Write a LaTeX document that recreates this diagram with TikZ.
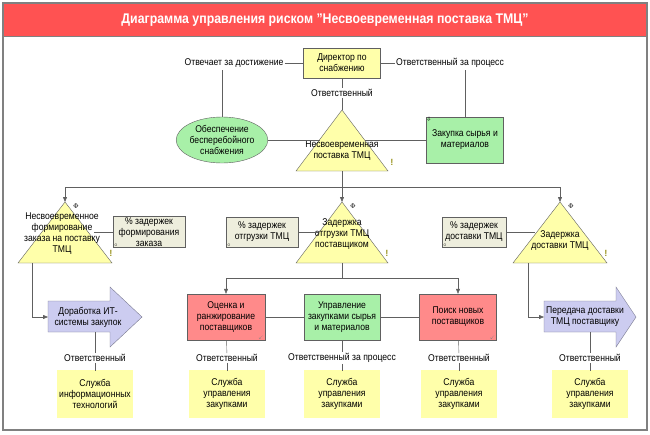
\documentclass[tikz,border=0pt]{standalone}
\usepackage{amssymb}
\usepackage{fontspec}
\setmainfont{Liberation Sans}[FakeStretch=0.88]
\usetikzlibrary{positioning,arrows.meta,shapes.geometric}
\definecolor{titlered}{HTML}{FF5252}
\definecolor{boxyellow}{HTML}{FFFFAA}
\definecolor{boxgreen}{HTML}{A8F0A8}
\definecolor{boxred}{HTML}{FF8A8A}
\definecolor{boxblue}{HTML}{CCCCF0}
\definecolor{boxgray}{HTML}{EEEEDD}
\definecolor{linegray}{HTML}{606060}
\tikzset{
  txt/.style={font=\fontsize{9.8}{11}\selectfont, align=center, inner sep=1pt},
  box/.style={txt, draw=linegray, minimum width=#1, minimum height=31pt, inner sep=1pt},
  org/.style={box=74pt, fill=boxyellow, double=boxyellow, double distance=1.4pt, draw=olive!80!black, minimum height=46pt, text width=72pt},
  kpi/.style={box=72pt, fill=boxgray, minimum height=30pt},
  risk/.style={draw=linegray, fill=boxyellow},
  arr/.style={draw=boxblue!60!black, fill=boxblue},
  ln/.style={draw=linegray},
  ar/.style={ln, -{Triangle[width=4pt,length=5pt]}}
}
\begin{document}
\begin{tikzpicture}[x=1pt, y=-1pt]
    \useasboundingbox (0,0) rectangle (650,434);
    \fill[white] (0,0) rectangle (650,434);
    \draw[gray, line width=1.2pt] (3,3) rectangle (647,430);
    \fill[titlered] (4,4) rectangle (646,36);
    \draw[gray] (4,36) -- (646,36);
    \node[font=\bfseries\fontsize{14}{16}\selectfont, text=white] (title) at (325,20)
      {Диаграмма управления риском "Несвоевременная поставка ТМЦ"};

    % top level
    \node[box=77pt, fill=boxyellow, minimum height=30pt] (dir) at (342,63) {Директор по\\снабжению};
    \node[txt] (lach) at (234,63) {Отвечает за достижение};
    \node[txt] (lproc) at (450,63) {Ответственный за процесс};
    \node[txt] (lresp) at (342,93) {Ответственный};
    \node[txt, draw=linegray, fill=boxgreen, ellipse, minimum width=86pt, minimum height=46pt, inner sep=0pt] (goal) at (222,140)
      {Обеспечение\\бесперебойного\\снабжения};
    \node[box=77pt, fill=boxgreen, minimum height=46pt] (proc) at (465,140) {Закупка сырья и\\материалов};
    \node[font=\tiny, anchor=north west, inner sep=0pt] at (proc.north west) {$\Downarrow$};

    \coordinate (rtop) at (342,110);
    \coordinate (rbot) at (342,171);
    \draw[risk] (rtop) -- (388,171) -- (296,171) -- cycle;
    \node[txt] (risk) at (342,151) {Несвоевременная\\поставка ТМЦ};
    \node[txt, font=\bfseries\small, text=olive] at (392,162) {!};

    \draw[ln] (lach) -- (dir);
    \draw[ln] (dir) -- (lproc);
    \draw[ln] (dir) -- (lresp);
    \draw[ln] (lresp) -- (rtop);
    \draw[ln] (222,70) -- (goal);
    \draw[ln] (465,70) -- (proc);
    \draw[ln] (goal) -- (320,140);
    \draw[ln] (365,140) -- (proc);

    % sub risks
    \foreach \name/\x/\w in {ra/65/47, rb/342/46, rc/560/47} {
      \coordinate (\name top) at (\x,202);
      \draw[risk] (\name top) -- ++(\w,61) -- ++(-2*\w,0) -- cycle;
      \node[txt, font=\fontsize{7}{7}\selectfont] at (\x+11,206) {$\Phi$};
      \node[txt, font=\bfseries\small, text=olive] at (\x+\w-1,253) {!};
    }
    \coordinate (bus) at (342,187);
    \draw[ln] (rbot) -- (bus);
    \draw[ln] (65,187) -- (560,187);
    \draw[ar] (65,187) -- (ratop);
    \draw[ar] (bus) -- (rbtop);
    \draw[ar] (560,187) -- (rctop);

    \node[txt] (riska) at (62,234) {Несвоевременное\\формирование\\заказа на поставку\\ТМЦ};
    \node[txt] (riskb) at (342,234) {Задержка\\отгрузки ТМЦ\\поставщиком};
    \node[txt] (riskc) at (560,241) {Задержка\\доставки ТМЦ};

    \node[kpi] (ka) at (149,232) {\% задержек\\формирования\\заказа};
    \node[kpi] (kb) at (262,232) {\% задержек\\отгрузки ТМЦ};
    \node[kpi, minimum width=64pt] (kc) at (474,232) {\% задержек\\доставки ТМЦ};
    \foreach \k in {ka,kb,kc}
      \node[font=\tiny, anchor=south west, inner sep=1pt] at (\k.south west) {$\circ$};
    \draw[ln] (94,232) -- (ka);
    \draw[ln] (kb) -- (318,232);
    \draw[ln] (kc) -- (535,232);

    % measures
    \draw[arr] (48,301) -- (110,301) -- (110,287) -- (142,317) -- (110,347) -- (110,332) -- (48,332) -- cycle;
    \node[txt] (ma) at (88,317) {Доработка ИТ-\\системы закупок};
    \draw[arr] (544,301) -- (616,301) -- (616,287) -- (636,317) -- (616,347) -- (616,332) -- (544,332) -- cycle;
    \node[txt] (mc) at (585,317) {Передача доставки\\ТМЦ поставщику};
    \draw[ar] (32,263) |- (48,317);
    \draw[ar] (528,263) |- (544,317);

    \node[box=78pt, fill=boxred, minimum height=46pt] (m1) at (226,317) {Оценка и\\ранжирование\\поставщиков};
    \node[box=76pt, fill=boxgreen, minimum height=46pt] (m2) at (342,317) {Управление\\закупками сырья\\и материалов};
    \node[box=77pt, fill=boxred, minimum height=46pt] (m3) at (458,317) {Поиск новых\\поставщиков};
    \foreach \m in {m1,m3}
      \node[font=\tiny, text=gray, anchor=south east, inner sep=1pt] at (\m.south east) {$\checkmark$};
    \draw[ln] (m1) -- (m2);
    \draw[ln] (m2) -- (m3);
    \draw[ln] (342,263) -- (342,278);
    \draw[ln] (226,278) -- (458,278);
    \draw[ar] (226,278) -- (m1);
    \draw[ar] (458,278) -- (m3);

    % owners
    \foreach \name/\x/\lab/\lines in {oa/95/Ответственный/{Служба\\информационных\\технологий},
        ob/227/Ответственный/{Служба\\управления\\закупками},
        oc/342/Ответственный за процесс/{Служба\\управления\\закупками},
        od/459/Ответственный/{Служба\\управления\\закупками},
        oe/590/Ответственный/{Служба\\управления\\закупками}} {
      \node[org] (\name) at (\x,394) {\lines};
      \node[txt, fill=white] (\name l) at (\x,358) {\lab};
      \draw[ln] (\name l) -- (\name);
    }
    \draw[ln] (95,332) -- (oal);
    \draw[ln] (m1) -- (obl);
    \draw[ln] (m2) -- (ocl);
    \draw[ln] (m3) -- (odl);
    \draw[ln] (590,332) -- (oel);
\end{tikzpicture}
\end{document}
